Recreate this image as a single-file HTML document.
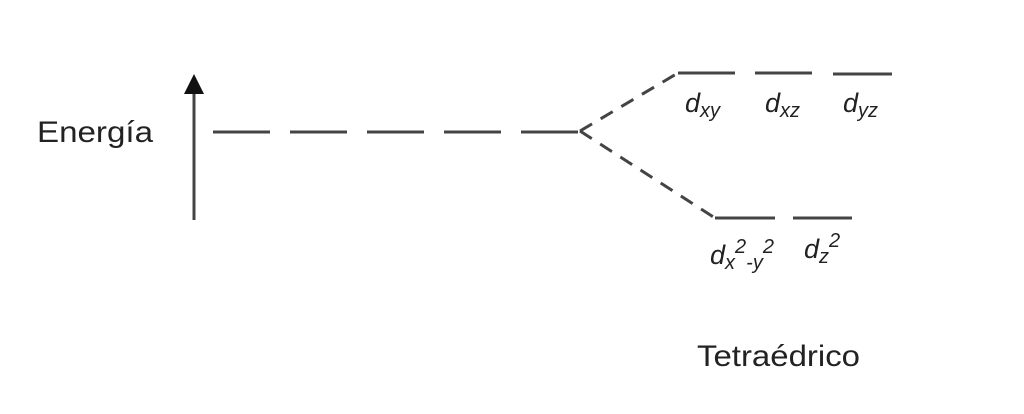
<!DOCTYPE html>
<html><head><meta charset="utf-8"><style>
body{margin:0;background:#fff;}
svg{display:block}
text{font-family:"Liberation Sans",sans-serif;fill:#222}
.i{font-style:italic;font-size:27px}
.s{font-size:20px}
</style></head><body>
<svg width="1024" height="414" viewBox="0 0 1024 414">
<g stroke="#444" stroke-width="3" fill="none">
<line x1="194" y1="93" x2="194" y2="220"/>
<line x1="213" y1="132" x2="580" y2="132" stroke-dasharray="57 20"/>
<line x1="580" y1="131" x2="678" y2="73" stroke-dasharray="14 10"/>
<line x1="580" y1="131" x2="715" y2="218" stroke-dasharray="14 10"/>
<line x1="678" y1="73" x2="735" y2="73"/>
<line x1="755" y1="73" x2="812" y2="73"/>
<line x1="833" y1="74" x2="892" y2="74"/>
<line x1="715" y1="218" x2="775" y2="218"/>
<line x1="793" y1="218" x2="852" y2="218"/>
</g>
<polygon points="194,74 184,94 204,94" fill="#111"/>
<text x="37" y="142" font-size="30" textLength="116" lengthAdjust="spacingAndGlyphs">Energía</text>
<text x="697" y="366" font-size="30" textLength="163" lengthAdjust="spacingAndGlyphs">Tetraédrico</text>
<text x="685" y="112" class="i">d<tspan class="s" dy="5">xy</tspan></text>
<text x="765" y="112" class="i">d<tspan class="s" dy="5">xz</tspan></text>
<text x="843" y="112" class="i">d<tspan class="s" dy="5">yz</tspan></text>
<text x="710" y="264" class="i">d<tspan class="s" dy="5">x</tspan><tspan class="s" dy="-16">2</tspan><tspan class="s" dy="16">-y</tspan><tspan class="s" dy="-16">2</tspan></text>
<text x="804" y="258" class="i">d<tspan class="s" dy="5">z</tspan><tspan class="s" dy="-16">2</tspan></text>
</svg>
</body></html>
